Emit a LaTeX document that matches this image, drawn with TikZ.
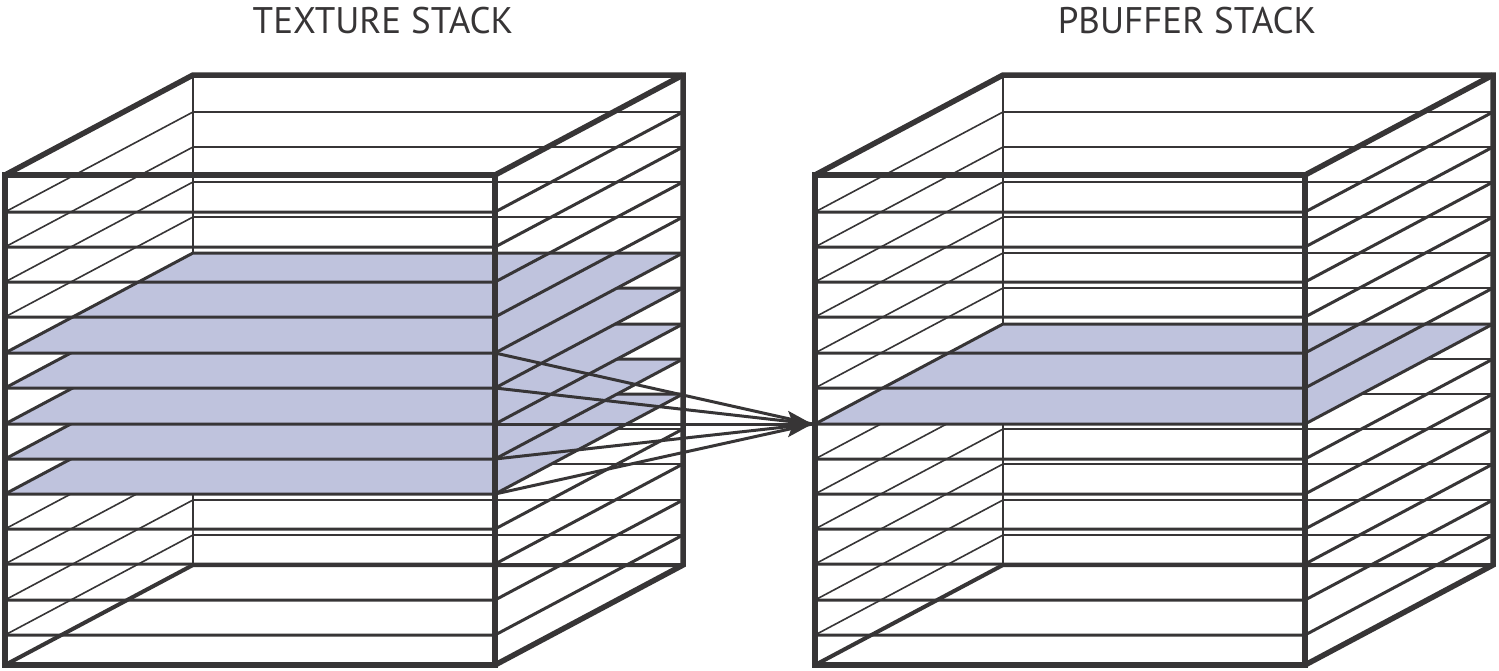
\documentclass[tikz,border=0pt]{standalone}
\usepackage{fontspec}
\setmainfont{PT Sans}
\usetikzlibrary{arrows.meta}

\definecolor{edgegray}{RGB}{55,53,54}
\definecolor{slicefill}{RGB}{191,195,221}

\begin{document}
\begin{tikzpicture}[x=1pt, y=-1pt,
		frame/.style={draw=edgegray, line width=5.5pt, line join=miter},
		base frame/.style={draw=edgegray, line width=4pt},
		hidden edge/.style={draw=edgegray, line width=2pt},
		slice edge/.style={draw=edgegray},
		link/.style={draw=edgegray, line width=3pt},
		title/.style={text=edgegray, anchor=base, font=\fontsize{37}{44}\selectfont}]
		\useasboundingbox (0, 0) rectangle (1499, 670);
		
		% texture stack
		\begin{scope}[xshift=5pt]
			\draw[hidden edge] (188, 75) -- (188, 565);
			\draw[base frame] (0, 665) -- (188, 565) -- (678, 565);
			\foreach \y/\c/\w in {635/none/1.6, 600/none/1.6, 564/none/1.6, 529/none/1.6,
					494/slicefill/3, 459/slicefill/3, 424/slicefill/3, 388/slicefill/3, 353/slicefill/3,
					317/none/1.6, 282/none/1.6, 247/none/1.6, 212/none/1.6} {
				\fill[fill=\c] (0, \y) -- (490, \y) -- (678, \y-100) -- (188, \y-100) -- cycle;
				\draw[slice edge, line width=\w pt] (0, \y) -- (188, \y-100) -- (678, \y-100);
				\draw[slice edge, line width=3pt] (0, \y) -- (490, \y) -- (678, \y-100);
			}
			\draw[frame] (0, 175) rectangle (490, 665);
			\draw[frame] (0, 175) -- (188, 75) -- (678, 75) -- (678, 565) -- (490, 665);
			\draw[frame] (490, 175) -- (678, 75);
			
			\coordinate (tex-1) at (490, 353);
			\coordinate (tex-2) at (490, 388);
			\coordinate (tex-3) at (490, 424);
			\coordinate (tex-4) at (490, 459);
			\coordinate (tex-5) at (490, 494);
		\end{scope}
		
		% pbuffer stack
		\begin{scope}[xshift=815pt]
			\draw[hidden edge] (188, 75) -- (188, 565);
			\draw[base frame] (0, 665) -- (188, 565) -- (678, 565);
			\foreach \y/\c/\w in {635/none/1.6, 600/none/1.6, 564/none/1.6, 529/none/1.6,
					494/none/1.6, 459/none/1.6, 424/slicefill/3, 388/none/1.6, 353/none/1.6,
					317/none/1.6, 282/none/1.6, 247/none/1.6, 212/none/1.6} {
				\fill[fill=\c] (0, \y) -- (490, \y) -- (678, \y-100) -- (188, \y-100) -- cycle;
				\draw[slice edge, line width=\w pt] (0, \y) -- (188, \y-100) -- (678, \y-100);
				\draw[slice edge, line width=3pt] (0, \y) -- (490, \y) -- (678, \y-100);
			}
			\draw[frame] (0, 175) rectangle (490, 665);
			\draw[frame] (0, 175) -- (188, 75) -- (678, 75) -- (678, 565) -- (490, 665);
			\draw[frame] (490, 175) -- (678, 75);
			
			\coordinate (pbuf-in) at (-2.75, 424);
		\end{scope}
		
		\foreach \k in {1, 2, 4, 5}
			\draw[link] (tex-\k) -- (pbuf-in);
		\draw[link, -{Stealth[length=24pt, width=26pt, inset=5pt]}] (tex-3) -- (pbuf-in);
		
		\node[title] (tex-title) at (383, 33) {TEXTURE STACK};
		\node[title] (pbuf-title) at (1187, 33) {PBUFFER STACK};
	\end{tikzpicture}
\end{document}
